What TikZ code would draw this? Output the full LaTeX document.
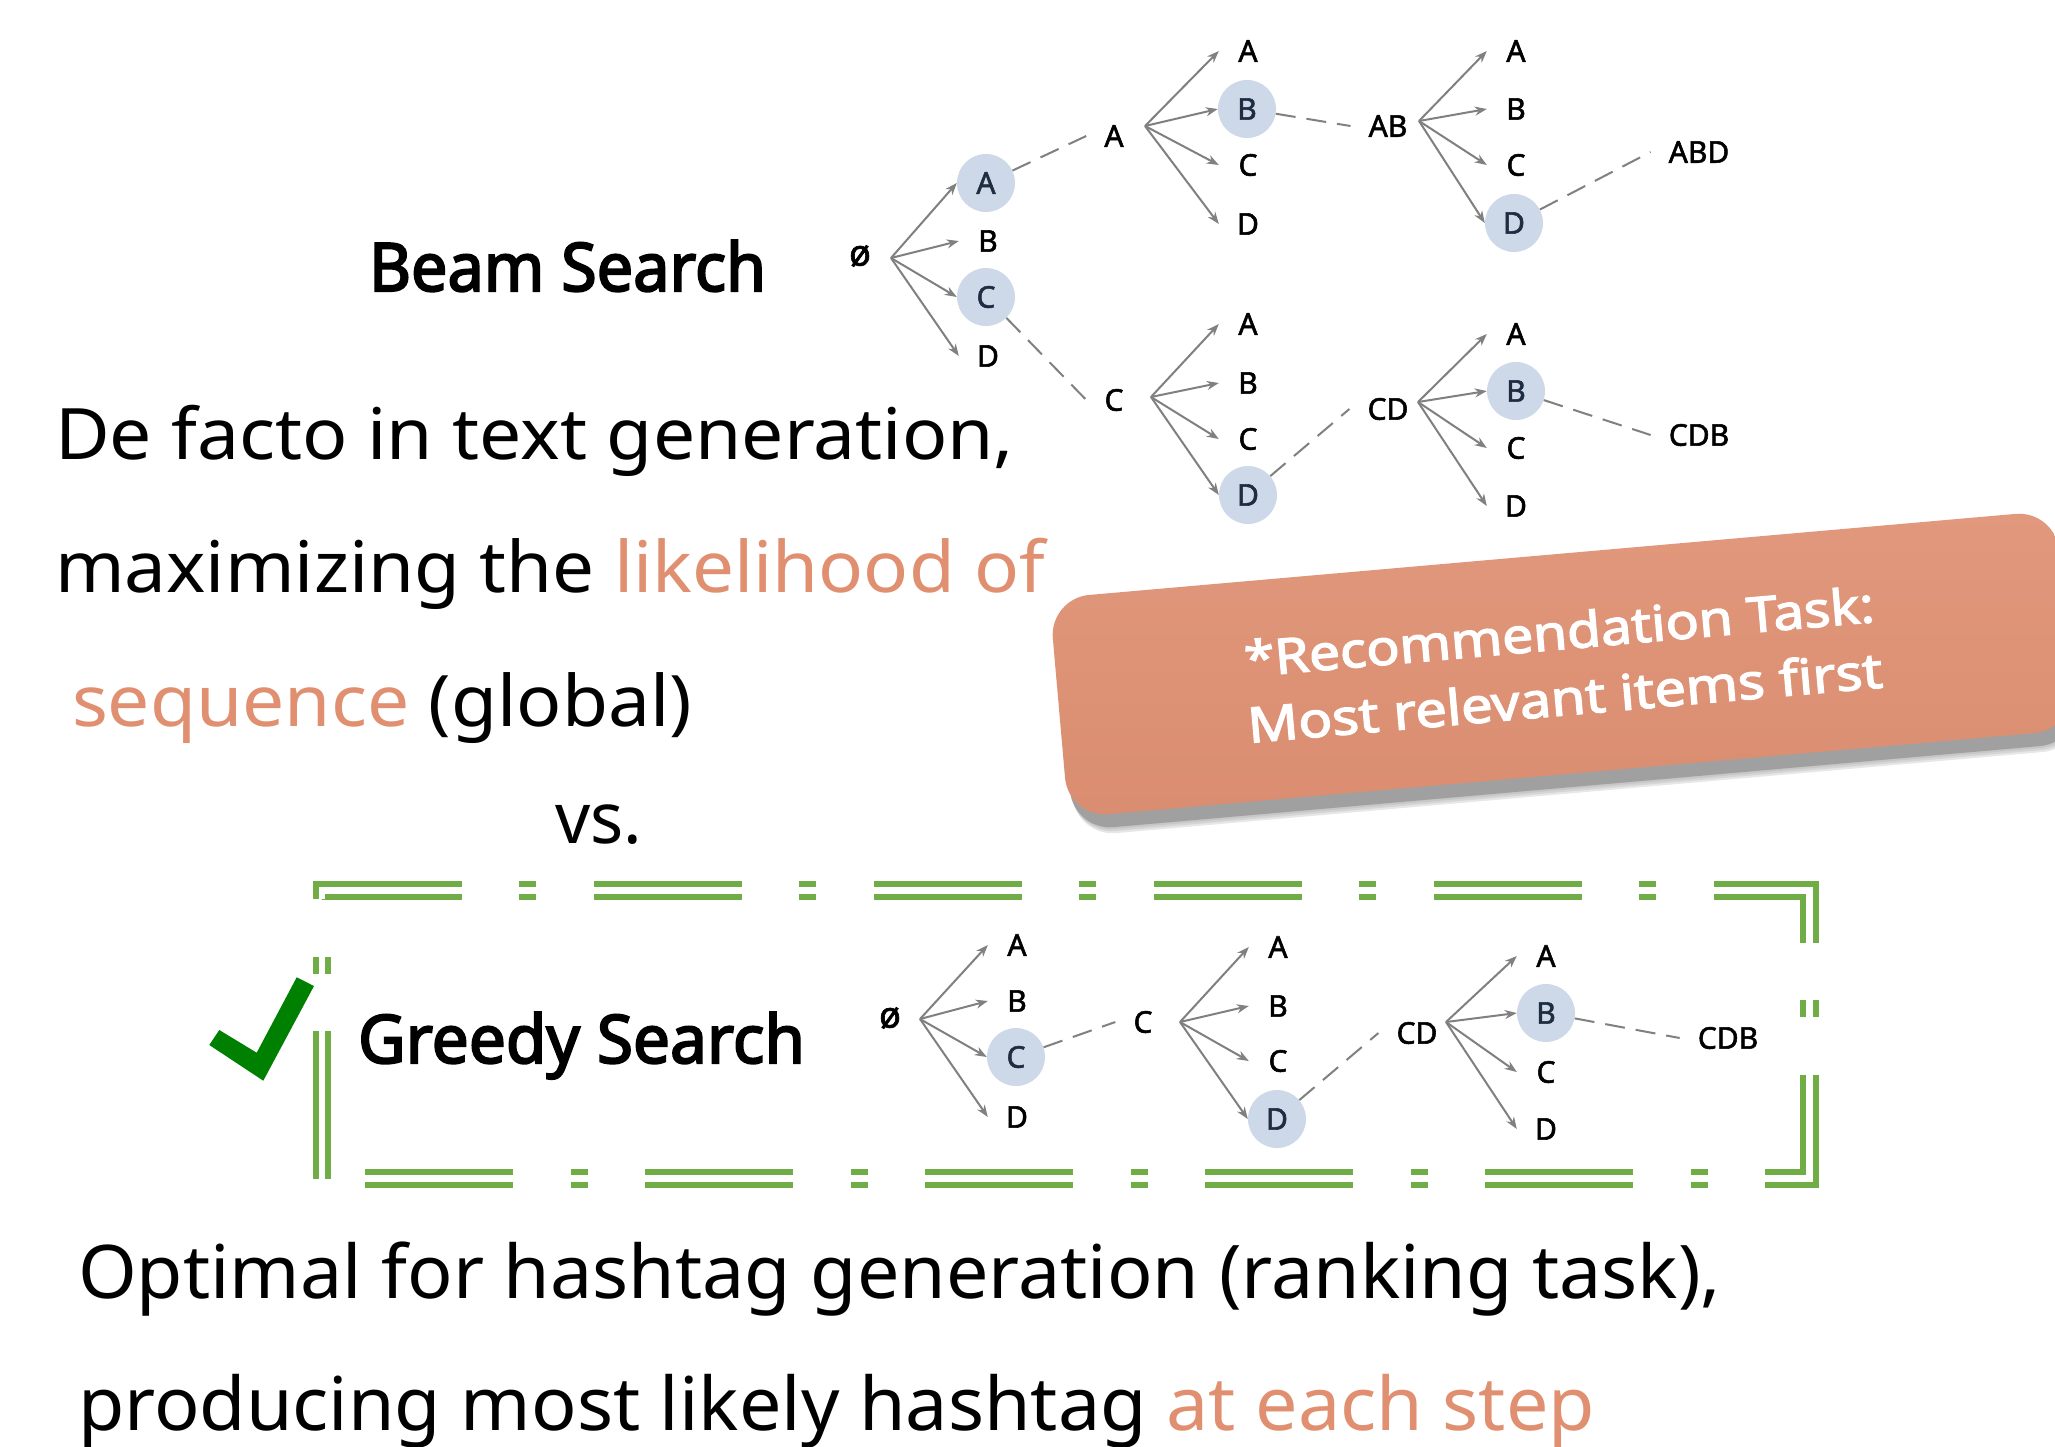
\documentclass[tikz,border=0pt]{standalone}
\usepackage{fontspec}
\usepackage{graphicx}
\setmainfont{Noto Sans}
\newfontfamily\lblfam{Noto Sans}[FakeBold=1.8]
\newfontfamily\headfam{Noto Sans}[FakeBold=3]
\newfontfamily\notefam{Noto Sans}[FakeBold=2.5]
\usetikzlibrary{arrows.meta,shadows}

\definecolor{salmon}{RGB}{224,144,112}
\definecolor{boxfill}{RGB}{218,141,112}
\definecolor{boxtop}{RGB}{225,152,124}
\definecolor{selfill}{RGB}{205,217,232}
\definecolor{seltext}{RGB}{30,45,66}
\definecolor{edgegray}{RGB}{128,128,128}
\definecolor{framegreen}{RGB}{112,173,71}
\definecolor{tickgreen}{RGB}{0,128,0}
\definecolor{shadowgray}{RGB}{160,160,160}

% scale a line of text horizontally to a given width (in pt)
\newsavebox\fitbox
\newlength\fitwd
\newcommand\fitto[2]{\sbox\fitbox{#2}\setlength\fitwd{\wd\fitbox}%
  \pgfmathsetmacro\fitfac{#1/\fitwd}\scalebox{\fitfac}[1]{\usebox\fitbox}}

\newcommand\txtbody{\fontsize{71pt}{85pt}\selectfont}
\newcommand\txtbig{\fontsize{74pt}{88pt}\selectfont}
\newcommand\txthead{\headfam\fontsize{67pt}{80pt}\selectfont}
\newcommand\txtbox{\notefam\fontsize{49pt}{66pt}\selectfont}
\newcommand\txtlbl{\lblfam\fontsize{30pt}{36pt}\selectfont}
\newcommand\txtroot{\lblfam\fontsize{36pt}{42pt}\selectfont}

\tikzset{
  txtline/.style={anchor=base west, inner sep=0pt, outer sep=0pt},
  tokbox/.style={circle, minimum size=58pt, inner sep=0pt, font=\txtlbl},
  tokpick/.style={tokbox, fill=selfill, text=seltext},
  seqlabel/.style={inner xsep=18pt, inner ysep=4pt, font=\txtlbl},
  fanarrow/.style={draw=edgegray, line width=2pt, -{Stealth[length=12pt,width=9pt]}},
  beamlink/.style={draw=edgegray, line width=2pt, dash pattern=on 20pt off 11pt},
  softshadow/.style={general shadow={shadow xshift=#1*0.4pt, shadow yshift=-#1*1pt,
      opacity=0.25, fill=shadowgray}},
}

\begin{document}
\begin{tikzpicture}[x=1pt, y=-1pt]
\fill[white] (0,0) rectangle (2055,1446);
\useasboundingbox (0,0) rectangle (2055,1446);

% ---------- left-hand text ----------
\node[txtline, font=\txthead] (beam) at (369,291) {\fitto{397}{Beam Search}};
\node[txtline, font=\txtbody] (l1) at (55,459) {\fitto{959}{De facto in text generation,}};
\node[txtline, font=\txtbody] (l2) at (55,592) {\fitto{990}{maximizing the \textcolor{salmon}{likelihood of}}};
\node[txtline, font=\txtbody] (l3) at (72,726) {\fitto{620}{\textcolor{salmon}{sequence} (global)}};
\node[txtline, font=\txtbody] (vs) at (555,843) {\fitto{87}{vs.}};
\node[txtline, font=\txthead] (greedy) at (358,1063) {\fitto{447}{Greedy Search}};
\node[txtline, font=\txtbig] (l5) at (78,1298) {\fitto{1643}{Optimal for hashtag generation (ranking task),}};
\node[txtline, font=\txtbig] (l6) at (78,1430) {\fitto{1517}{producing most likely hashtag \textcolor{salmon}{at each step}}};

% ---------- beam search tree ----------
\node[font=\txtroot] (r0) at (860,256) {ø};
\coordinate (f0) at (891,258);
\node[tokpick] (a1) at (986,183) {A};
\node[tokbox]  (b1) at (988,241) {B};
\node[tokpick] (c1) at (986,297) {C};
\node[tokbox]  (d1) at (988,356) {D};
\foreach \n in {a1,b1,c1,d1} \draw[fanarrow] (f0) -- (\n.west);

% branch A
\node[seqlabel] (sA) at (1114,136) {A};
\draw[beamlink] (a1) -- (sA.west);
\coordinate (fA) at (1145,126);
\node[tokbox]  (a2) at (1248,51) {A};
\node[tokpick] (b2) at (1247,109) {B};
\node[tokbox]  (c2) at (1248,165) {C};
\node[tokbox]  (d2) at (1248,224) {D};
\foreach \n in {a2,b2,c2,d2} \draw[fanarrow] (fA) -- (\n.west);

\node[seqlabel] (sAB) at (1388,126) {AB};
\draw[beamlink] (b2) -- (sAB.west);
\coordinate (fAB) at (1419,121);
\node[tokbox]  (a3) at (1516,51) {A};
\node[tokbox]  (b3) at (1516,109) {B};
\node[tokbox]  (c3) at (1516,165) {C};
\node[tokpick] (d3) at (1514,223) {D};
\foreach \n in {a3,b3,c3,d3} \draw[fanarrow] (fAB) -- (\n.west);

\node[seqlabel] (sABD) at (1699,152) {ABD};
\draw[beamlink] (d3) -- (sABD.west);

% branch C
\node[seqlabel] (sC) at (1114,400) {C};
\draw[beamlink] (c1) -- (sC.west);
\coordinate (fC) at (1151,397);
\node[tokbox]  (a4) at (1248,324) {A};
\node[tokbox]  (b4) at (1248,383) {B};
\node[tokbox]  (c4) at (1248,439) {C};
\node[tokpick] (d4) at (1248,495) {D};
\foreach \n in {a4,b4,c4,d4} \draw[fanarrow] (fC) -- (\n.west);

\node[seqlabel] (sCD) at (1388,409) {CD};
\draw[beamlink] (d4) -- (sCD.west);
\coordinate (fCD) at (1418,402);
\node[tokbox]  (a5) at (1516,334) {A};
\node[tokpick] (b5) at (1516,391) {B};
\node[tokbox]  (c5) at (1516,448) {C};
\node[tokbox]  (d5) at (1516,506) {D};
\foreach \n in {a5,b5,c5,d5} \draw[fanarrow] (fCD) -- (\n.west);

\node[seqlabel] (sCDB) at (1699,435) {CDB};
\draw[beamlink] (b5) -- (sCDB.west);

% ---------- recommendation note ----------
\node[rotate=5, rounded corners=40pt, minimum width=1010pt, minimum height=220pt,
      top color=boxtop, bottom color=boxfill, text=white, font=\txtbox,
      align=center, inner sep=0pt,
      softshadow=19, softshadow=17, softshadow=15, softshadow=13,
      general shadow={shadow xshift=5pt, shadow yshift=-13pt, fill=shadowgray}]
  (note) at (1562,664)
  {\fitto{632}{*Recommendation Task:}\\\fitto{637}{Most relevant items first}};

% ---------- greedy search frame and tick ----------
\draw[framegreen, line width=6pt, double=white, double distance=6.3pt,
      dash pattern=on 148pt off 57pt on 17pt off 58pt, line join=miter]
  (322,1178.5) -- (322,890.5) -- (1809.5,890.5) -- (1809.5,1178.5) -- cycle;
\fill[tickgreen] (209.3,1045) -- (219.3,1030) -- (256.7,1052.7) -- (296.7,977.3)
  -- (314,986) -- (263.3,1080.7) -- cycle;

% ---------- greedy search tree ----------
\node[font=\txtroot] (g0) at (890,1018) {ø};
\coordinate (fg0) at (920,1019);
\node[tokbox]  (ga1) at (1017,945) {A};
\node[tokbox]  (gb1) at (1017,1001) {B};
\node[tokpick] (gc1) at (1016,1057) {C};
\node[tokbox]  (gd1) at (1017,1117) {D};
\foreach \n in {ga1,gb1,gc1,gd1} \draw[fanarrow] (fg0) -- (\n.west);

\node[seqlabel] (sgC) at (1143,1022) {C};
\draw[beamlink] (gc1) -- (sgC.west);
\coordinate (fgC) at (1180,1022);
\node[tokbox]  (ga2) at (1278,947) {A};
\node[tokbox]  (gb2) at (1278,1006) {B};
\node[tokbox]  (gc2) at (1278,1061) {C};
\node[tokpick] (gd2) at (1277,1119) {D};
\foreach \n in {ga2,gb2,gc2,gd2} \draw[fanarrow] (fgC) -- (\n.west);

\node[seqlabel] (sgCD) at (1417,1033) {CD};
\draw[beamlink] (gd2) -- (sgCD.west);
\coordinate (fgCD) at (1446,1022);
\node[tokbox]  (ga3) at (1546,956) {A};
\node[tokpick] (gb3) at (1546,1013) {B};
\node[tokbox]  (gc3) at (1546,1072) {C};
\node[tokbox]  (gd3) at (1546,1129) {D};
\foreach \n in {ga3,gb3,gc3,gd3} \draw[fanarrow] (fgCD) -- (\n.west);

\node[seqlabel] (sgCDB) at (1728,1038) {CDB};
\draw[beamlink] (gb3) -- (sgCDB.west);
\end{tikzpicture}
\end{document}
